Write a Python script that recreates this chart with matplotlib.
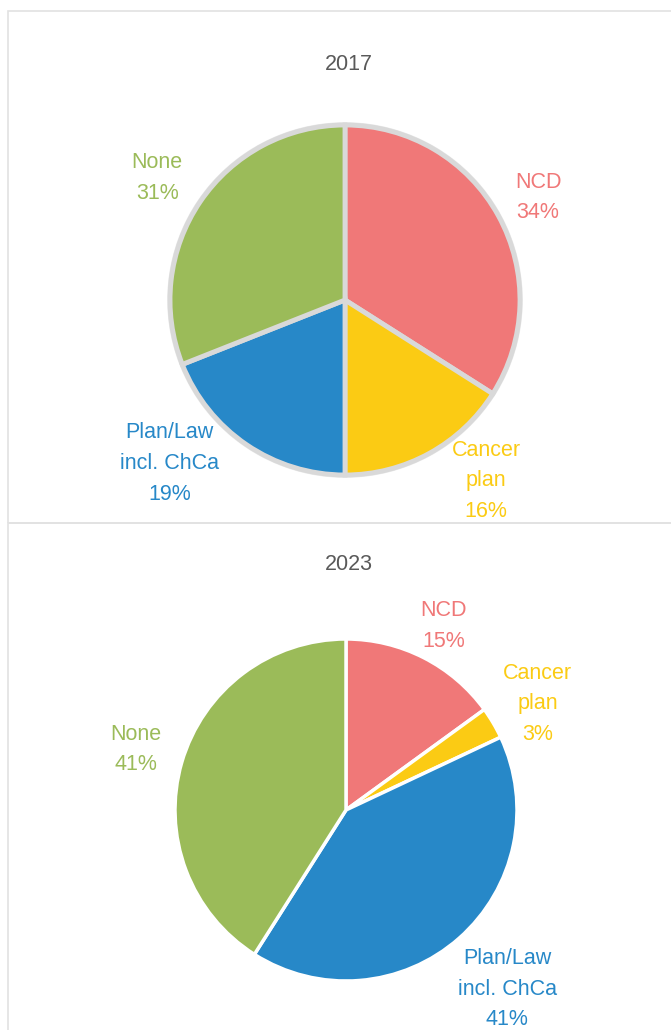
import matplotlib
matplotlib.use("Agg")
import matplotlib.pyplot as plt
from matplotlib.patches import Rectangle
import numpy as np

plt.rcParams["font.family"] = ["Liberation Sans", "DejaVu Sans"]

categories = ["NCD", "Cancer\nplan", "Plan/Law\nincl. ChCa", "None"]
values_2017 = [34, 16, 19, 31]
values_2023 = [15, 3, 41, 41]
colors = ["#F07878", "#FBCB14", "#2788C8", "#9BBB59"]

# label placement: (angle in deg, distance in radii) per slice
labels_2017 = [(28, 1.25), (-52, 1.31), (-137, 1.37), (147, 1.28)]
labels_2023 = [(62, 1.22), (29, 1.28), (-48, 1.41), (164, 1.28)]

W, H = 671, 1030
fig = plt.figure(figsize=(W / 100, H / 100), dpi=100)

# panel borders
for y0, y1 in [(11, 523), (523, 1035)]:
    fig.add_artist(Rectangle((8 / W, 1 - y1 / H), (W + 5 - 8) / W, (y1 - y0) / H,
                             transform=fig.transFigure, fill=False,
                             edgecolor="#e2e2e2", lw=1.2))

UNIT = 175  # px per data unit
LIM = 1.6


def make_ax(cx, cy):
    size = 2 * LIM * UNIT
    return fig.add_axes([(cx - size / 2) / W, (H - cy - size / 2) / H, size / W, size / H])


def draw(ax, values, radius, edge, lw, places):
    ax.pie(values, colors=colors, startangle=90, counterclock=False, radius=radius,
           wedgeprops=dict(edgecolor=edge, linewidth=lw))
    for cat, v, c, (ang, d) in zip(categories, values, colors, places):
        a = np.deg2rad(ang)
        ax.text(d * radius * np.cos(a), d * radius * np.sin(a), f"{cat}\n{v}%",
                color=c, fontsize=15.5, ha="center", va="center", linespacing=1.6,
                clip_on=False)
    ax.set_xlim(-LIM, LIM)
    ax.set_ylim(-LIM, LIM)
    ax.set_aspect("equal")
    ax.axis("off")
    ax.patch.set_visible(False)


ax1 = make_ax(345, 300)
# soft shadow ring behind the 2017 pie
ax1.add_patch(plt.Circle((0, 0), 1.012, color="#ebebeb", zorder=0))
draw(ax1, values_2017, 1.0, "#d9d9d9", 3.5, labels_2017)

ax2 = make_ax(346, 810)
draw(ax2, values_2023, 171 / 175, "white", 2.5, labels_2023)

fig.text(349 / W, 1 - 65 / H, "2017", ha="center", va="center", fontsize=15.5, color="#595959")
fig.text(349 / W, 1 - 565 / H, "2023", ha="center", va="center", fontsize=15.5, color="#595959")

plt.savefig("out.png", dpi=100)
plt.close()
